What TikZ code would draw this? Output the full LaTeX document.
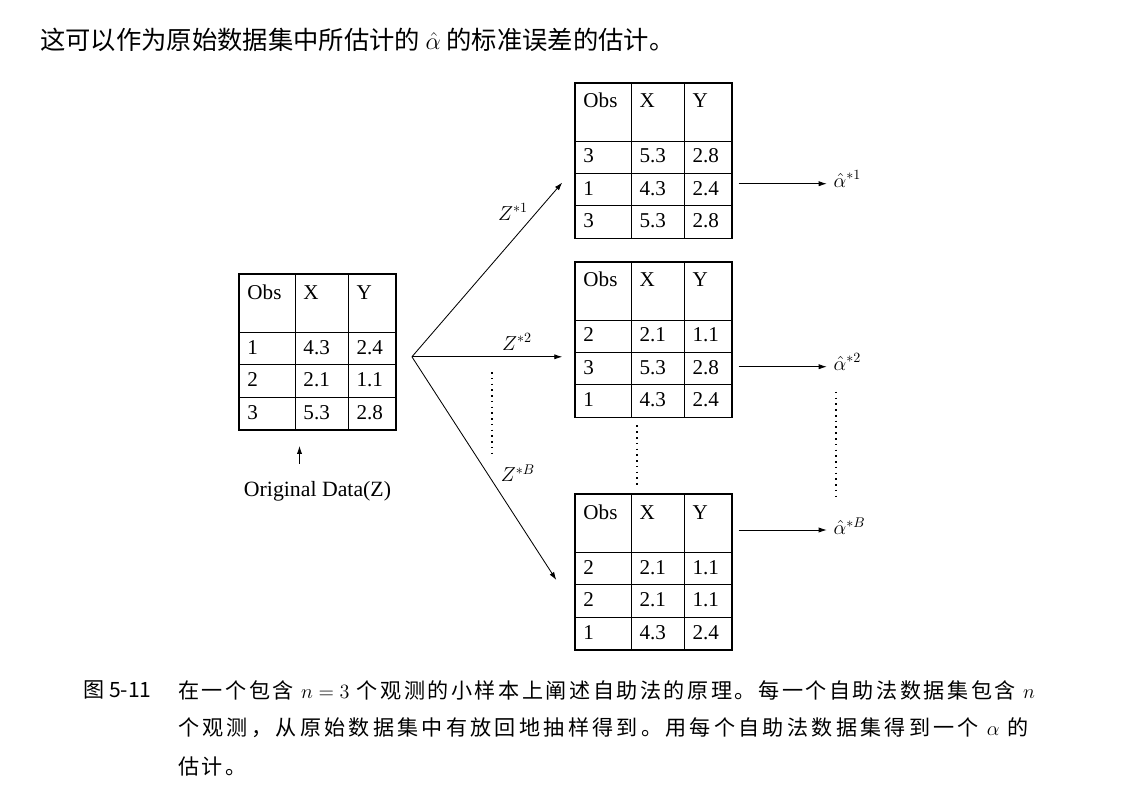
\documentclass[tikz,border=0pt]{standalone}
\usepackage{fontspec}
\setmainfont{Liberation Serif}
\newfontfamily\cjk{Noto Sans CJK SC}
\newfontfamily\cjkcap[LetterSpace=12]{Noto Sans CJK SC}
\newfontfamily\cjkcapwide[LetterSpace=15.5]{Noto Sans CJK SC}
\usetikzlibrary{arrows.meta,calc,matrix,positioning}
\newcommand{\tabfont}{\fontsize{15}{17}\selectfont}
\tikzset{
  wire/.style={black, line width=0.6pt},
  flow/.style={wire, -{Latex[length=2mm,width=1.3mm]}},
  dotline/.style={black, line width=1.1pt, dash pattern=on 1.1pt off 3pt},
  obstable/.style={matrix of nodes, draw, line width=1.2pt, inner sep=0pt,
    column sep=-0.5pt, row sep=-0.5pt,
    nodes={draw, line width=0.5pt, inner xsep=0.2cm, inner ysep=0pt,
           align=left, font=\tabfont, text height=0.55cm, text depth=0.26cm},
    column 1/.style={nodes={text width=1.0cm}},
    column 2/.style={nodes={text width=0.925cm}},
    column 3/.style={nodes={text width=0.775cm}},
    row 1/.style={nodes={text height=0.62cm, text depth=0.83cm}}},
  lab/.style={font=\fontsize{14}{16}\selectfont, inner sep=1pt},
  toptext/.style={font=\fontsize{18}{22}\selectfont\cjk, inner sep=0pt, anchor=west},
  captext/.style={font=\fontsize{15}{18}\selectfont\cjkcap, inner sep=0pt, anchor=west},
}

\begin{document}
\begin{tikzpicture}[x=0.025cm,y=-0.025cm]
  \path[use as bounding box] (0,0) rectangle (1138,794);

  \node[toptext] (lead) at (40,40)
    {这可以作为原始数据集中所估计的 $\hat{\alpha}$ 的标准误差的估计。};

  % original data
  \matrix (orig) [obstable] at (317.5,352) {
    Obs & X & Y \\
    1 & 4.3 & 2.4 \\
    2 & 2.1 & 1.1 \\
    3 & 5.3 & 2.8 \\
  };
  \node[font=\fontsize{15.5}{18}\selectfont] (datalbl) at ([yshift=-1.5cm]orig.south)
    {Original Data(Z)};
  \draw[flow] ([shift={(-0.45cm,0.3cm)}]datalbl.north) -- ++(0,0.45cm);

  % bootstrap samples
  \matrix (boot1) [obstable] at (653.5,160.5) {
    Obs & X & Y \\
    3 & 5.3 & 2.8 \\
    1 & 4.3 & 2.4 \\
    3 & 5.3 & 2.8 \\
  };
  \matrix (boot2) [obstable] at (653.5,339.5) {
    Obs & X & Y \\
    2 & 2.1 & 1.1 \\
    3 & 5.3 & 2.8 \\
    1 & 4.3 & 2.4 \\
  };
  \matrix (bootB) [obstable] at (653.5,572) {
    Obs & X & Y \\
    2 & 2.1 & 1.1 \\
    2 & 2.1 & 1.1 \\
    1 & 4.3 & 2.4 \\
  };

  \coordinate (fan) at ([shift={(0.38cm,-0.12cm)}]orig.east);
  \coordinate (tip2) at ([xshift=-0.3cm]boot2.west);
  \draw[flow] (fan) -- ([shift={(-0.3cm,-0.55cm)}]boot1.west);
  \draw[flow] (fan) -- (fan -| tip2);
  \draw[flow] (fan) -- ([shift={(-0.45cm,-0.2cm)}]bootB.west);
  \node[lab] (z1) at (513,212) {$Z^{*1}$};
  \node[lab] (z2) at (517,342) {$Z^{*2}$};
  \node[lab] (zB) at (518,473) {$Z^{*B}$};
  \draw[dotline] (492,372) -- (492,457);

  % estimates
  \node[lab, anchor=west] (alpha1) at (832,179) {$\hat{\alpha}^{*1}$};
  \node[lab, anchor=west] (alpha2) at (832,362) {$\hat{\alpha}^{*2}$};
  \node[lab, anchor=west] (alphaB) at (832,526) {$\hat{\alpha}^{*B}$};
  \draw[flow] ([shift={(0.15cm,-0.58cm)}]boot1.east) -- ++(2.2cm,0);
  \draw[flow] ([shift={(0.15cm,-0.68cm)}]boot2.east) -- ++(2.2cm,0);
  \draw[flow] ([shift={(0.15cm,1.05cm)}]bootB.east) -- ++(2.2cm,0);
  \draw[dotline] ([xshift=0.15cm,yshift=-0.2cm]boot2-4-2.south west) -- ([xshift=0.15cm,yshift=0.2cm]bootB-1-2.north west);
  \draw[dotline] ([shift={(0.1cm,-0.5cm)}]alpha2.south west) -- ([shift={(0.1cm,0.4cm)}]alphaB.north west);

  % caption
  \node[captext, font=\fontsize{15}{18}\selectfont\cjk] (figno) at (83,690) {图 5-11};
  \node[captext] (cap1) at (178,690)
    {在一个包含 $n=3$ 个观测的小样本上阐述自助法的原理。每一个自助法数据集包含 $n$};
  \node[captext, font=\fontsize{15}{18}\selectfont\cjkcapwide] (cap2) at (178,728)
    {个观测，从原始数据集中有放回地抽样得到。用每个自助法数据集得到一个 $\alpha$ 的};
  \node[captext] (cap3) at (178,766) {估计。};
\end{tikzpicture}
\end{document}
